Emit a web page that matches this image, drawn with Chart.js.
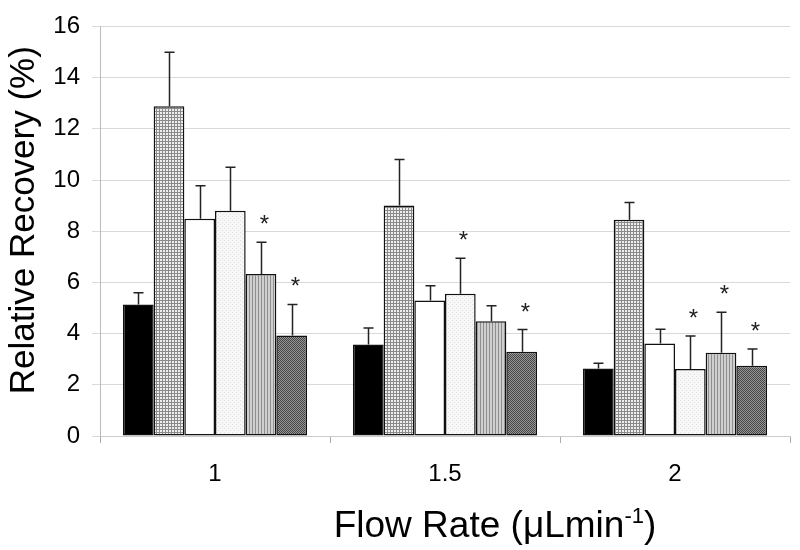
<!DOCTYPE html>
<html><head><meta charset="utf-8">
<script src="https://cdn.jsdelivr.net/npm/chart.js@4/dist/chart.umd.min.js"></script>
<style>html,body{margin:0;padding:0;background:#fff}#wrap{width:800px;height:550px}</style>
</head><body><div id="wrap"><canvas id="c" width="800" height="550"></canvas></div>
<script>
// ---- data ----
const categories = ['1', '1.5', '2'];
const yTicksMax = 16;
const yTickStep = 2;
const solidValues    = [5.14, 3.57, 2.64];
const solidErr       = [0.46, 0.65, 0.20];
const gridValues     = [12.88, 9.00, 8.45];
const gridErr        = [2.11, 1.80, 0.67];
const whiteValues    = [8.49, 5.29, 3.61];
const whiteErr       = [1.29, 0.58, 0.56];
const dottedValues   = [8.80, 5.56, 2.62];
const dottedErr      = [1.70, 1.38, 1.29];
const stripedValues  = [6.33, 4.48, 3.25];
const stripedErr     = [1.24, 0.61, 1.58];
const hatchedValues  = [3.93, 3.29, 2.74];
const hatchedErr     = [1.21, 0.87, 0.66];
const solidStar   = [false, false, false];
const gridStar    = [false, false, false];
const whiteStar   = [false, false, false];
const dottedStar  = [false, true, true];
const stripedStar = [true, false, true];
const hatchedStar = [true, true, true];
const xTitleMain = 'Flow Rate (\u03BCLmin';
const xTitleSup = '-1';
const xTitleEnd = ')';
const yTitle = 'Relative Recovery (%)';

// ---- patterns ----
function makePattern(w, h, draw) {
  const c = document.createElement('canvas'); c.width = w; c.height = h;
  const g = c.getContext('2d'); draw(g); return g.createPattern(c, 'repeat');
}
const patGrid = makePattern(3, 3, g => {
  g.fillStyle = '#eeeeee'; g.fillRect(0, 0, 3, 3);
  g.fillStyle = '#8a8a8a'; g.fillRect(0, 0, 3, 1); g.fillRect(0, 0, 1, 3);
});
const patDotted = makePattern(4, 4, g => {
  g.fillStyle = '#f7f7f7'; g.fillRect(0, 0, 4, 4);
  g.fillStyle = '#e2e2e2'; g.fillRect(0, 0, 1, 1); g.fillRect(2, 2, 1, 1);
});
const patStriped = makePattern(3, 1, g => {
  g.fillStyle = '#cfcfcf'; g.fillRect(0, 0, 3, 1);
  g.fillStyle = '#8f8f8f'; g.fillRect(0, 0, 1, 1);
});
const patHatched = makePattern(4, 4, g => {
  g.fillStyle = '#969696'; g.fillRect(0, 0, 4, 4);
  g.fillStyle = '#454545';
  for (let i = 0; i < 4; i++) { g.fillRect(i, i, 1, 1); g.fillRect((i + 2) % 4, i, 1, 1); }
});

function ds(label, data, err, stars, fill) {
  return { label, data, errors: err, stars, backgroundColor: fill,
    borderColor: '#111', borderWidth: 1.5, borderSkipped: false,
    categoryPercentage: 0.8, barPercentage: 1.0 };
}

const FONT = '"Liberation Sans", Arial, sans-serif';

const errorBars = {
  id: 'errorBars',
  afterDatasetsDraw(chart) {
    const ctx = chart.ctx, ys = chart.scales.y;
    ctx.save();
    chart.data.datasets.forEach((d, di) => {
      const meta = chart.getDatasetMeta(di);
      meta.data.forEach((bar, i) => {
        const top = ys.getPixelForValue(d.data[i] + d.errors[i]);
        const x = Math.round(bar.x) + 0.5;
        ctx.strokeStyle = '#222'; ctx.lineWidth = 1.5;
        ctx.beginPath(); ctx.moveTo(x, bar.y); ctx.lineTo(x, top);
        ctx.moveTo(x - 5, top); ctx.lineTo(x + 5, top); ctx.stroke();
        if (d.stars[i]) {
          ctx.fillStyle = '#222';
          ctx.font = '24px ' + FONT;
          ctx.textAlign = 'center'; ctx.textBaseline = 'alphabetic';
          ctx.fillText('*', x + 3, top - 10);
        }
      });
    });
    ctx.restore();
  }
};

const axisTitles = {
  id: 'axisTitles',
  afterDraw(chart) {
    const ctx = chart.ctx, area = chart.chartArea;
    ctx.save();
    ctx.fillStyle = '#000';
    // y title
    ctx.font = '35px ' + FONT;
    ctx.translate(34, (area.top + area.bottom) / 2 - 11);
    ctx.rotate(-Math.PI / 2);
    ctx.textAlign = 'center'; ctx.textBaseline = 'alphabetic';
    ctx.fillText(yTitle, 0, 0);
    ctx.setTransform(1, 0, 0, 1, 0, 0);
    // x title with superscript
    const big = '37px ' + FONT, small = '22px ' + FONT;
    ctx.font = big; const w1 = ctx.measureText(xTitleMain).width; const w3 = ctx.measureText(xTitleEnd).width;
    ctx.font = small; const w2 = ctx.measureText(xTitleSup).width;
    const total = w1 + w2 + w3;
    const cx = (area.left + area.right) / 2 + 50;
    let x = cx - total / 2; const base = 537;
    ctx.textAlign = 'left';
    ctx.font = big; ctx.fillText(xTitleMain, x, base); x += w1;
    ctx.font = small; ctx.fillText(xTitleSup, x, base - 14); x += w2;
    ctx.font = big; ctx.fillText(xTitleEnd, x, base);
    ctx.restore();
  }
};

new Chart(document.getElementById('c'), {
  type: 'bar',
  data: {
    labels: categories,
    datasets: [
      ds('Series 1', solidValues, solidErr, solidStar, '#000000'),
      ds('Series 2', gridValues, gridErr, gridStar, patGrid),
      ds('Series 3', whiteValues, whiteErr, whiteStar, '#ffffff'),
      ds('Series 4', dottedValues, dottedErr, dottedStar, patDotted),
      ds('Series 5', stripedValues, stripedErr, stripedStar, patStriped),
      ds('Series 6', hatchedValues, hatchedErr, hatchedStar, patHatched)
    ]
  },
  options: {
    responsive: false, animation: false, devicePixelRatio: 1,
    layout: { padding: { top: 18, right: 10, bottom: 0, left: 0 } },
    plugins: { legend: { display: false }, tooltip: { enabled: false } },
    scales: {
      x: {
        grid: { offset: true, drawOnChartArea: false, tickLength: 7, color: '#aaaaaa' },
        border: { color: '#cccccc' },
        ticks: { color: '#000', font: { family: FONT, size: 24 }, padding: 17 },
        title: { display: false },
        afterFit(s) { s.height = 114; }
      },
      y: {
        min: 0, max: yTicksMax,
        grid: { color: '#d9d9d9', tickLength: 8, lineWidth: 1 },
        border: { color: '#bbbbbb' },
        ticks: { stepSize: yTickStep, color: '#000', font: { family: FONT, size: 24 }, padding: 12 },
        title: { display: false },
        afterFit(s) { s.width = 100; }
      }
    }
  },
  plugins: [errorBars, axisTitles]
});
</script></body></html>
